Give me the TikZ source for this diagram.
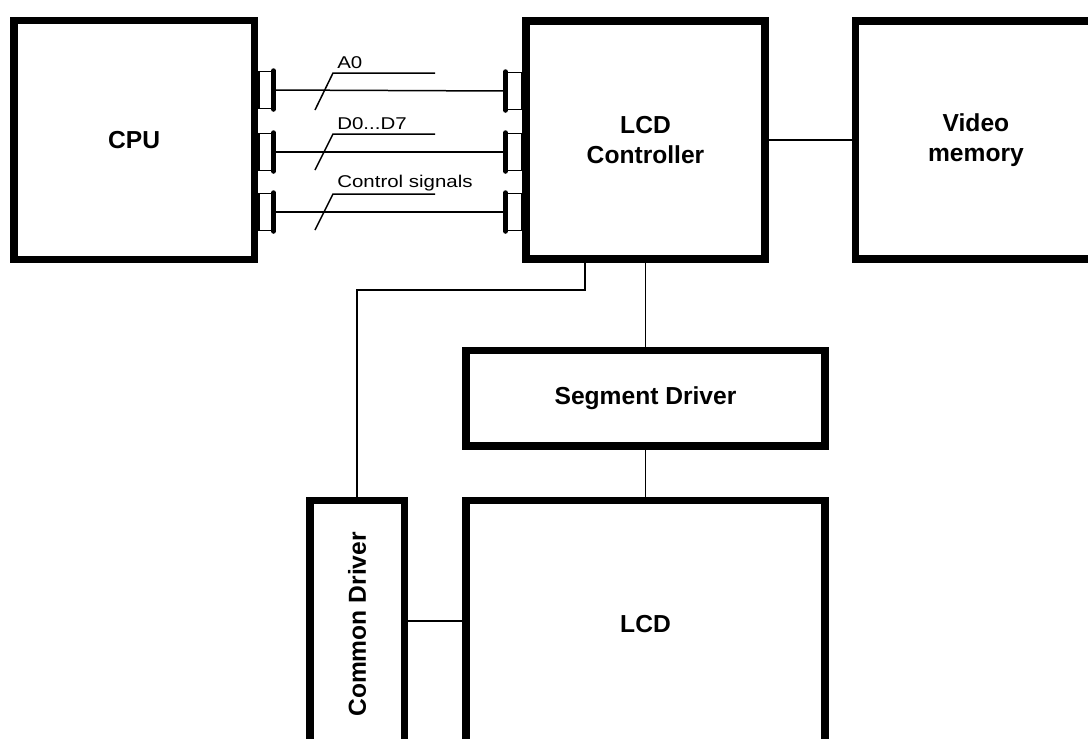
\documentclass[tikz,border=0pt]{standalone}
\usepackage{fontspec}
\usepackage{graphicx}
\setmainfont{Liberation Sans}
\newfontfamily\sigfont[FakeStretch=1.2]{Liberation Sans}
\usetikzlibrary{positioning}

\begin{document}
\begin{tikzpicture}[
    x=0.02cm, y=-0.02cm,
    blk/.style={draw, line width=0.15cm, inner sep=0pt, align=center, font=\bfseries\fontsize{14}{17}\selectfont},
    port/.style={draw, line width=0.03cm, inner sep=0pt, minimum width=0.3cm, minimum height=0.74cm},
    bar/.style={line width=0.1cm, line cap=round},
    wire/.style={line width=0.03cm},
    sig/.style={inner sep=0pt, font=\sigfont\fontsize{9.7}{11}\selectfont}
]
\useasboundingbox (0,0) rectangle (1088,738);

\node[blk, minimum width=4.79cm, minimum height=4.77cm] (ctrl) at (645.5,140) {LCD\\Controller};
\node[blk, minimum width=4.81cm, minimum height=4.79cm, left=5.28cm of ctrl] (cpu) {CPU};
\node[blk, minimum width=4.81cm, minimum height=4.77cm, right=1.66cm of ctrl] (vmem) {Video\\memory};
\node[blk, minimum width=7.19cm, minimum height=1.91cm, below=1.68cm of ctrl] (seg) {Segment Driver};
\node[blk, minimum width=7.19cm, minimum height=4.95cm, below=0.94cm of seg] (lcd) {LCD};
\node[blk, minimum width=1.89cm, minimum height=4.95cm, left=1.08cm of lcd] (cdrv) {\rotatebox{90}{Common Driver}};

% bus ports
\node[port, anchor=west, minimum width=0.28cm] (pa) at (258,90) {};
\node[port, anchor=west, minimum width=0.28cm] (pd) at (258,152) {};
\node[port, anchor=west, minimum width=0.28cm] (pc) at (258,212) {};
\node[port, anchor=east] (qa) at (522,91) {};
\node[port, anchor=east] (qd) at (522,152) {};
\node[port, anchor=east] (qc) at (522,212) {};
\draw[bar] (pa.north east) -- (pa.south east);
\draw[bar] (pd.north east) -- (pd.south east);
\draw[bar] (pc.north east) -- (pc.south east);
\draw[bar] (qa.north west) -- (qa.south west);
\draw[bar] (qd.north west) -- (qd.south west);
\draw[bar] (qc.north west) -- (qc.south west);
\draw[wire] (pa.east) -- (qa.west);
\draw[wire] (pd.east) -- (qd.west);
\draw[wire] (pc.east) -- (qc.west);

% bus labels
\coordinate (ua) at (333,73);
\coordinate (ud) at (333,134);
\coordinate (uc) at (333,194);
\node[sig, anchor=base west] (la) at (337,68) {A0};
\node[sig, anchor=base west] (ld) at (337,129) {D0...D7};
\node[sig, anchor=base west] (lc) at (337,187) {Control signals};
\draw[wire] (ua) ++(-18,37) -- (ua) -- ++(102,0);
\draw[wire] (ud) ++(-18,36) -- (ud) -- ++(102,0);
\draw[wire] (uc) ++(-18,36) -- (uc) -- ++(102,0);

% links
\coordinate (tap) at (585,290);
\draw[wire] (ctrl) -- (vmem);
\draw[wire] (ctrl) -- (seg);
\draw[wire] (seg) -- (lcd);
\draw[wire] (cdrv.east |- 0,621) -- (lcd.west |- 0,621);
\draw[wire] (tap |- ctrl.south) -- (tap) -| (cdrv.north);
\end{tikzpicture}
\end{document}
